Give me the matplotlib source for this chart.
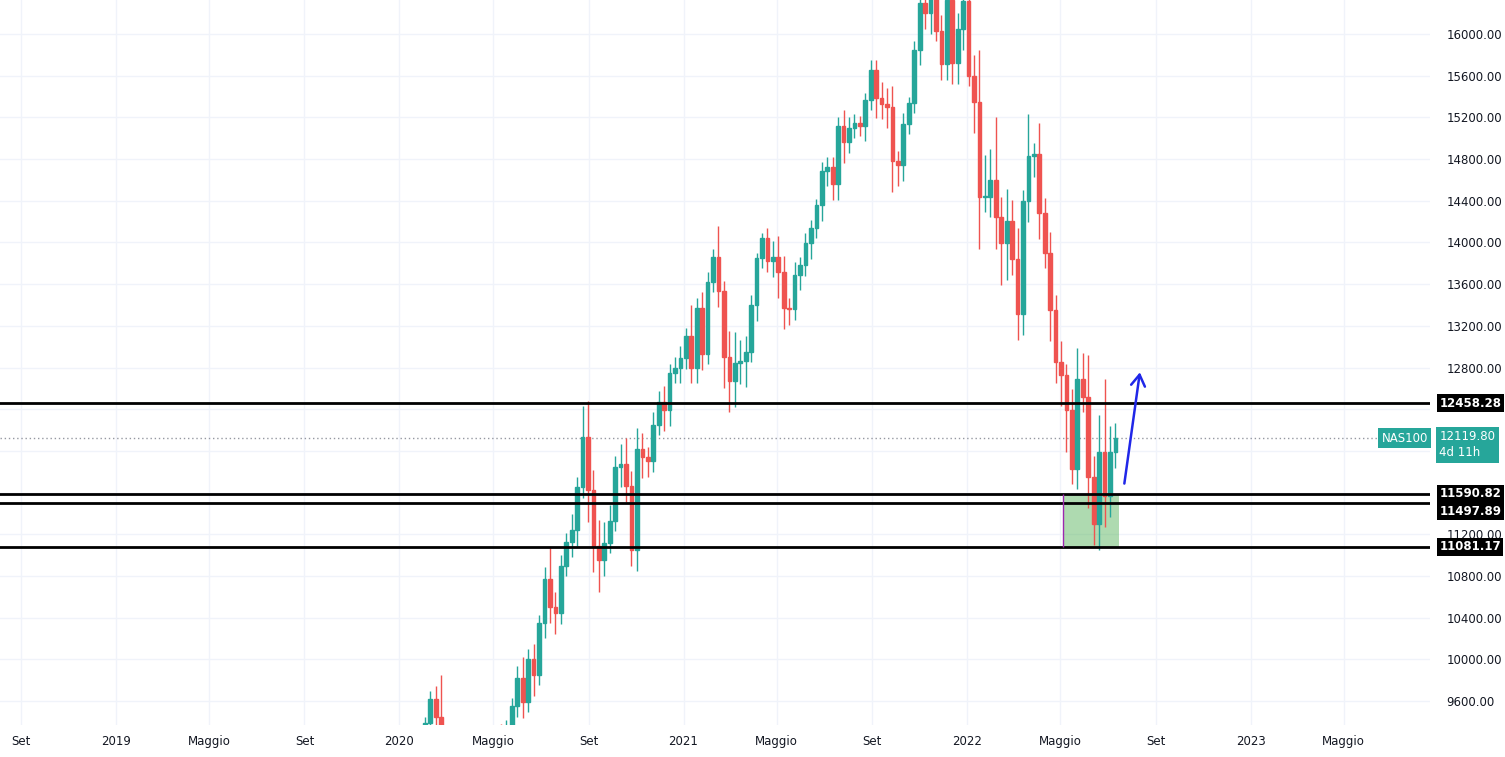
import matplotlib
matplotlib.use("Agg")
import matplotlib.pyplot as plt
import matplotlib.dates as mdates
import pandas as pd
from matplotlib.patches import Rectangle, FancyArrowPatch

closes = [8800, 9000, 9200, 9100, 8990, 9390, 9620, 9450, 8460, 8530, 7900, 6990, 7500,
          7490, 8230, 8830, 8780, 8720, 9230, 9150, 9320, 9550, 9820, 9590, 10000, 9850,
          10350, 10770, 10500, 10440, 10900, 11130, 11240, 11650, 12130, 11620, 11090, 10950,
          11120, 11330, 11850, 11870, 11660, 11050, 12020, 11940, 11900, 12250, 12470, 12390,
          12750, 12800, 12890,
          13100, 12800, 13370, 12930, 13620, 13860, 13530, 12900, 12670, 12840, 12860, 12950,
          13400, 13850, 14040, 13820, 13860, 13720, 13370, 13360, 13690, 13780, 13990, 14140,
          14360, 14690, 14720, 14560, 15120, 14960, 15100, 15150, 15120, 15370, 15650, 15390,
          15330, 15300, 14780, 14740, 15140, 15340, 15850, 16300, 16200, 16570, 16030, 15710,
          16330, 15720, 16050, 16320,
          15600, 15350, 14440, 14440, 14600, 14240, 13990, 14210, 13840, 13310, 14400, 14830,
          14850, 14280, 13900, 13350, 12850, 12730, 12390, 11830, 12690, 12520, 11750, 11300,
          11990, 11570, 11990, 12119.8]
up_wick = [60, 80, 90, 120, 110, 60, 80, 120, 400, 500,
           600, 700, 400, 300, 150, 100, 200, 150, 100, 150,
           100, 80, 120, 200, 100, 150, 80, 120, 300, 150,
           100, 80, 150, 100, 300, 350, 200, 250, 200, 150,
           100, 200, 250, 150, 200, 150, 100, 120, 100, 150,
           80, 100, 120,
           80, 300, 100, 150, 100, 80, 300, 100, 250, 300,
           200, 150, 100, 50, 50, 100, 150, 200, 150, 100,
           120, 80, 100, 80, 60, 80, 100, 100, 80, 150,
           100, 80, 60, 60, 100, 100, 150, 150, 200, 100,
           100, 60, 80, 100, 100, 150, 200, 150, 100, 250,
           150, 100,
           100, 200, 500, 400, 300, 600, 200, 300, 200, 300,
           100, 400, 100, 300, 150, 200, 150, 200, 100, 200,
           300, 250, 400, 200, 350, 700, 250, 150, 100]
dn_wick = [100, 100, 80, 150, 150, 100, 80, 100, 300, 600,
           700, 400, 300, 200, 200, 150, 200, 150, 100, 200,
           150, 100, 100, 150, 100, 200, 100, 150, 150, 200,
           100, 100, 150, 150, 100, 300, 250, 300, 150, 100,
           100, 200, 150, 150, 200, 200, 150, 100, 100, 200,
           150, 100, 150,
           100, 150, 150, 150, 100, 100, 150, 300, 300, 250,
           200, 250, 100, 150, 100, 100, 150, 250, 200, 150,
           100, 150, 100, 150, 100, 150, 150, 150, 150, 200,
           100, 100, 100, 150, 100, 200, 150, 200, 300, 200,
           150, 100, 100, 150, 150, 200, 100, 150, 150, 200,
           200, 200,
           100, 300, 500, 150, 200, 300, 400, 350, 150, 250,
           200, 200, 200, 250, 150, 300, 200, 300, 400, 150,
           200, 150, 300, 200, 250, 300, 200, 150, 100]

dates = pd.date_range("2019-12-30", periods=len(closes), freq="7D")
opens = [closes[0] - 50] + closes[:-1]

levels = [12458.28, 11590.82, 11497.89, 11081.17]
label_nudge = [0, 0, -75, 0]
last_price = 12119.80
yticks = list(range(9600, 16001, 400))
hidden_ticks = [11600, 12000, 12400]
xtick_dates = ["2018-09-01", "2019-01-01", "2019-05-01", "2019-09-01", "2020-01-01",
               "2020-05-01", "2020-09-01", "2021-01-01", "2021-05-01", "2021-09-01",
               "2022-01-01", "2022-05-01", "2022-09-01", "2023-01-01", "2023-05-01"]
xtick_labels = ["Set", "2019", "Maggio", "Set", "2020", "Maggio", "Set", "2021", "Maggio",
                "Set", "2022", "Maggio", "Set", "2023", "Maggio"]

UP, DN = "#26a69a", "#ef5350"
fig = plt.figure(figsize=(15.05, 7.57), dpi=100)
ax = fig.add_axes([0, 32/757, 1430/1505, 725/757])
xmin = mdates.date2num(pd.Timestamp("2018-08-05"))
xmax = mdates.date2num(pd.Timestamp("2023-08-20"))
ax.set_xlim(xmin, xmax)
ax.set_ylim(9370, 16326)

for d, o, c, uw, dw in zip(dates, opens, closes, up_wick, dn_wick):
    x = mdates.date2num(d)
    col = UP if c >= o else DN
    hi, lo = max(o, c) + uw, min(o, c) - dw
    ax.vlines(x, lo, hi, color=col, lw=1, zorder=3)
    ax.add_patch(Rectangle((x - 2.4, min(o, c)), 4.8, max(abs(c - o), 8), color=col, zorder=4))

for lv in levels:
    ax.axhline(lv, color="black", lw=2, zorder=5)
ax.axhline(last_price, color="#9598a1", lw=1, ls=(0, (1, 2)), zorder=2)

x0 = mdates.date2num(pd.Timestamp("2022-05-04"))
x1 = mdates.date2num(pd.Timestamp("2022-07-15"))
ax.add_patch(Rectangle((x0, levels[3]), x1 - x0, levels[1] - levels[3],
                       facecolor="#4caf50", alpha=0.45, edgecolor="none", zorder=2))
ax.vlines(x0, levels[3], levels[1], color="#9c27b0", lw=1, zorder=6)
ax.add_patch(FancyArrowPatch((mdates.date2num(pd.Timestamp("2022-07-22")), 11660),
                             (mdates.date2num(pd.Timestamp("2022-08-12")), 12780),
                             arrowstyle="->,head_length=8,head_width=5", color="#2027e8",
                             lw=1.8, zorder=7))

ax.set_yticks(yticks)
ax.set_xticks([mdates.date2num(pd.Timestamp(d)) for d in xtick_dates])
ax.set_xticklabels(xtick_labels)
ax.yaxis.tick_right()
ax.set_yticklabels(["" if v in hidden_ticks else f"{v:.2f}" for v in yticks])
ax.tick_params(length=0, labelsize=8.5, colors="#131722", pad=12)
ax.tick_params(axis="x", pad=7)
ax.grid(color="#f0f3fa", lw=1)
for s in ax.spines.values():
    s.set_visible(False)

tr = ax.get_yaxis_transform()
for lv, nd in zip(levels, label_nudge):
    ax.text(1.0065, lv + nd, f"{lv:.2f}", transform=tr, ha="left", va="center", fontsize=8.5,
            color="white", fontweight="bold", zorder=8,
            bbox=dict(boxstyle="square,pad=0.2", fc="black", ec="none"))
ax.text(1.0065, last_price - 60, f"{last_price:.2f}\n4d 11h", transform=tr, ha="left",
        va="center", fontsize=8.5, color="white", linespacing=1.3, zorder=8,
        bbox=dict(boxstyle="square,pad=0.3", fc=UP, ec="none"))
ax.text(0.9985, last_price, "NAS100", transform=tr, ha="right", va="center", fontsize=8.5,
        color="white", zorder=8, bbox=dict(boxstyle="square,pad=0.3", fc=UP, ec="none"))
fig.patches.append(Rectangle((0, 0), 1, 1, transform=fig.transFigure, fc="white", zorder=-10))
fig.savefig("out.png", dpi=100)
